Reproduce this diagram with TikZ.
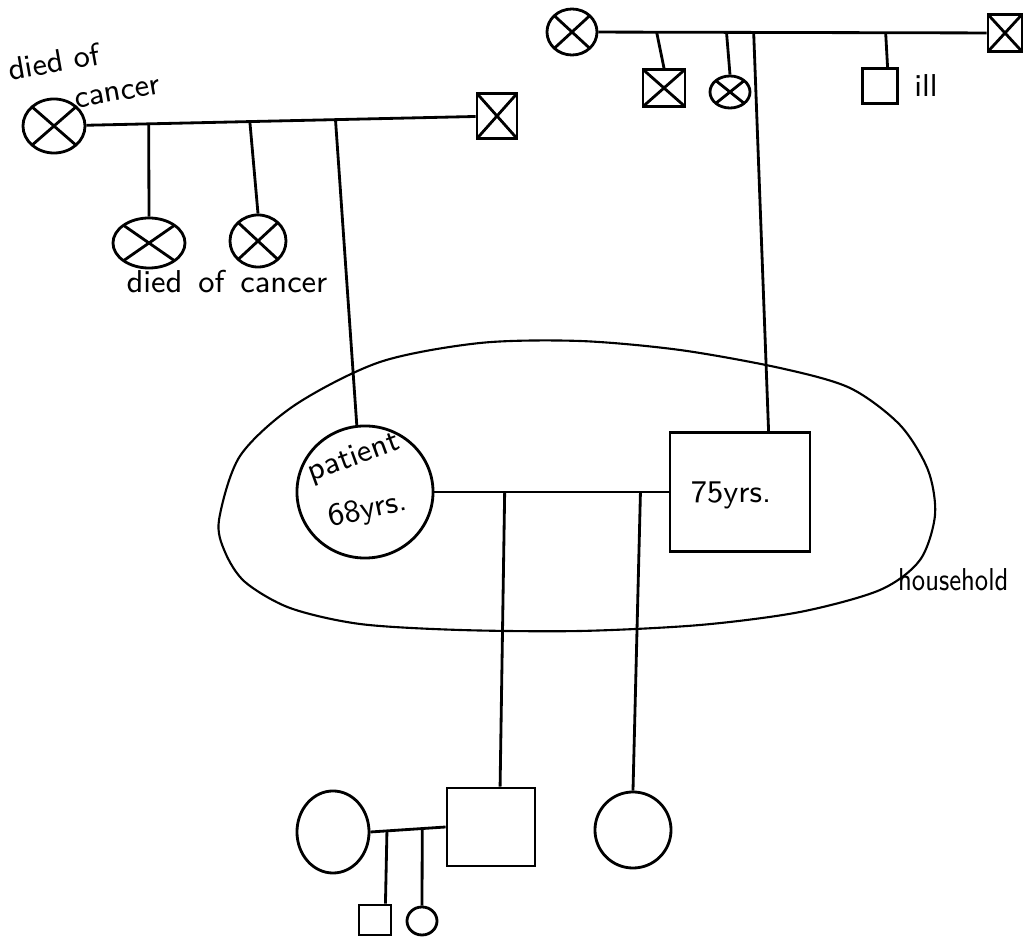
\documentclass[tikz,border=0pt]{standalone}
\usepackage{tikz}
\usetikzlibrary{shapes.geometric, positioning, calc}

\tikzset{
  person/.style={draw, inner sep=0pt, fill=white},
  female/.style={person, ellipse},
  male/.style={person, rectangle},
  dead/.style={path picture={
      \draw (path picture bounding box.north west) -- (path picture bounding box.south east)
            (path picture bounding box.north east) -- (path picture bounding box.south west);}},
  hand/.style={font=\sffamily\fontsize{9}{10}\selectfont, inner sep=0pt},
  household/.style={semithick}
}

\begin{document}
\begin{tikzpicture}[thick, x=0.01cm, y=-0.01cm]
    \useasboundingbox (0,0) rectangle (1023,940);

    % --- Household outline ---
    \draw[household] plot[smooth cycle] coordinates {
        (219,520) (240,456) (295,405) (380,362) (480,343) (580,341) (680,350)
        (780,368) (850,388) (900,425) (928,470) (935,515) (920,560) (880,590)
        (800,612) (700,625) (580,631) (460,630) (360,624) (290,608) (245,582)
        (225,552)};
    \node[hand, anchor=west, xscale=0.82] (hhlabel) at (897,580) {household};

    % --- Patient's parents (top left) ---
    \node[female, dead, minimum width=0.62cm, minimum height=0.54cm] (gmaP) at (54,126) {};
    \node[male, dead, minimum width=0.40cm, minimum height=0.45cm] (gpaP) at (497,116) {};
    \draw (gmaP) -- (gpaP);
    \node[hand, rotate=10, align=left] (gmaPlabel) at (84,76) {died of\\[1pt]\hspace*{1.9em}cancer};

    % sisters of the patient
    \coordinate (sibA) at ($(gmaP.east)!0.16!(gpaP.west)$);
    \coordinate (sibB) at ($(gmaP.east)!0.42!(gpaP.west)$);
    \coordinate (sibP) at ($(gmaP.east)!0.64!(gpaP.west)$);
    \node[female, dead, minimum width=0.72cm, minimum height=0.50cm] (sisA) at (149,243) {};
    \node[female, dead, minimum width=0.56cm, minimum height=0.52cm] (sisB) at (258,241) {};
    \draw (sibA) -- (sisA.north);
    \draw (sibB) -- (sisB.north);
    \node[hand] (sislabel) at (227,282) {died\enspace of\enspace cancer};

    % --- Husband's parents (top right) ---
    \node[female, dead, minimum width=0.50cm, minimum height=0.46cm] (gmaH) at (572,32) {};
    \node[male, dead, minimum width=0.34cm, minimum height=0.37cm] (gpaH) at (1005,33) {};
    \draw (gmaH) -- (gpaH);

    \coordinate (sibC) at ($(gmaH.east)!0.15!(gpaH.west)$);
    \coordinate (sibD) at ($(gmaH.east)!0.33!(gpaH.west)$);
    \coordinate (sibH) at ($(gmaH.east)!0.40!(gpaH.west)$);
    \coordinate (sibE) at ($(gmaH.east)!0.74!(gpaH.west)$);
    \node[male, dead, minimum width=0.42cm, minimum height=0.37cm] (broC) at (664,88) {};
    \node[female, dead, minimum width=0.40cm, minimum height=0.32cm] (sisD) at (730,92) {};
    \node[male, minimum width=0.35cm, minimum height=0.35cm] (broE) at (880,86) {};
    \node[hand, right=4pt of broE] (ill) {ill};
    \draw (sibC) -- (broC.north);
    \draw (sibD) -- (sisD.north);
    \draw (sibE) -- ($(broE.north west)!0.7!(broE.north east)$);

    % --- Patient and husband ---
    \node[female, minimum width=1.36cm, minimum height=1.32cm] (patient) at (365,492) {};
    \node[hand, rotate=20] (ptname) at (354,458) {patient};
    \node[hand, rotate=12] (ptage) at (368,511) {68yrs.};
    \node[male, minimum width=1.40cm, minimum height=1.19cm] (husband) at (740,492) {};
    \node[hand] (hbage) at (731,495) {75yrs.};
    \draw (sibP) -- (patient.97);
    \draw (sibH) -- ($(husband.north west)!0.7!(husband.north east)$);
    \draw (patient.east) -- (husband.west);

    % --- Children ---
    \coordinate (kidS) at ($(patient.east)!0.30!(husband.west)$);
    \coordinate (kidD) at ($(patient.east)!0.88!(husband.west)$);
    \node[male, minimum width=0.88cm, minimum height=0.78cm] (son) at (491,827) {};
    \node[female, minimum width=0.76cm, minimum height=0.76cm] (daughter) at (633,830) {};
    \draw (kidS) -- ($(son.north west)!0.6!(son.north east)$);
    \draw (kidD) -- (daughter.north);

    % son's wife and their children
    \node[female, minimum width=0.72cm, minimum height=0.82cm] (sonwife) at (333,832) {};
    \draw (sonwife.east) -- (son.west);
    \coordinate (gkA) at ($(sonwife.east)!0.22!(son.west)$);
    \coordinate (gkB) at ($(sonwife.east)!0.69!(son.west)$);
    \node[male, minimum width=0.32cm, minimum height=0.30cm] (gson) at (375,920) {};
    \node[female, minimum width=0.30cm, minimum height=0.28cm] (gdau) at (422,921) {};
    \draw (gkA) -- ($(gson.north west)!0.8!(gson.north east)$);
    \draw (gkB) -- (gdau.north);

\end{tikzpicture}
\end{document}
